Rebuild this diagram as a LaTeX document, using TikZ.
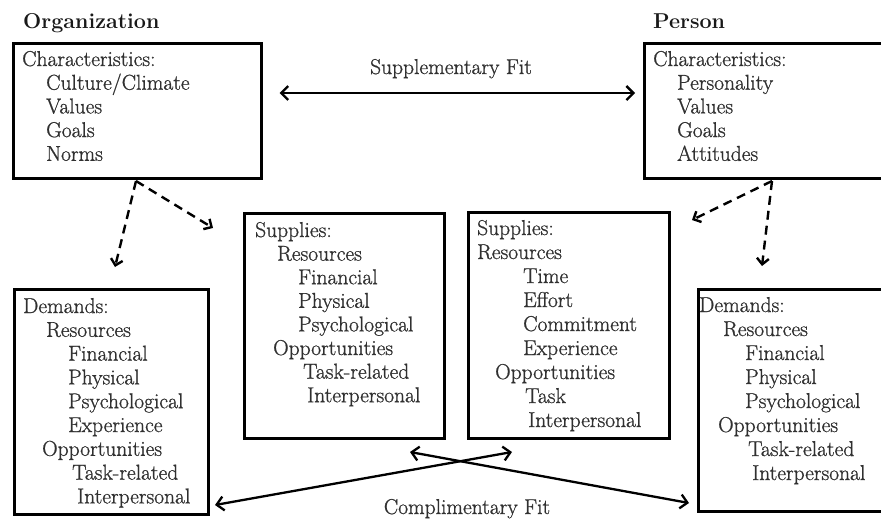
\documentclass[tikz,border=0pt]{standalone}
\usepackage{fontspec}
\newfontfamily\bodyfont{Latin Modern Roman}[FakeBold=0.9]
\usetikzlibrary{arrows.meta}
\definecolor{txtgray}{HTML}{303030}
\begin{document}
\begin{tikzpicture}[x=1pt,y=-1pt,
  box/.style={draw=black, line width=2.6pt, inner sep=0pt, anchor=north west},
  txt/.style={anchor=base west, inner sep=0pt, text=txtgray, font=\bodyfont\fontsize{21.5}{24}\selectfont},
  head/.style={anchor=base west, inner sep=0pt, text=black!90, font=\bfseries\fontsize{21.5}{24}\selectfont},
  fitarrow/.style={line width=2.3pt, {Straight Barb[length=7pt,width=14pt]}-{Straight Barb[length=7pt,width=14pt]}},
  dasharrow/.style={line width=2.4pt, dash pattern=on 9pt off 6pt, -{Straight Barb[length=6pt,width=12pt]}}
]
\clip (0,0) rectangle (881,523);
\fill[white] (0,0) rectangle (881,523);

% headings
\node[head] (orgH) at (23,28) {Organization};
\node[head] (perH) at (653,28) {Person};

% boxes
\node[box, minimum width=248pt, minimum height=135pt] (orgC) at (12,42) {};
\node[box, minimum width=260pt, minimum height=135pt] (perC) at (643,42) {};
\node[box, minimum width=200pt, minimum height=225pt] (supO) at (243,212) {};
\node[box, minimum width=201pt, minimum height=226pt] (supP) at (467,211) {};
\node[box, minimum width=194pt, minimum height=225pt] (demO) at (13,288) {};
\node[box, minimum width=200pt, minimum height=222pt] (demP) at (697,288) {};

% texts
\foreach \xx/\t [count=\i from 0] in {22/Characteristics:, 46/Culture\slash Climate, 46/Values, 46/Goals, 46/Norms}
  \node[txt] (oc\i) at (\xx,{66+23.7*\i}) {\t};
\foreach \xx/\t [count=\i from 0] in {653/Characteristics:, 677/Personality, 677/Values, 677/Goals, 677/Attitudes}
  \node[txt] (pc\i) at (\xx,{66+23.7*\i}) {\t};
\foreach \xx/\t [count=\i from 0] in {255/Supplies:, 277/Resources, 298/Financial, 298/Physical, 298/Psychological, 273/Opportunities, 303/Task-related, 307/Interpersonal}
  \node[txt] (so\i) at (\xx,{237+23.6*\i}) {\t};
\foreach \xx/\t [count=\i from 0] in {477/Supplies:, 477/Resources, 523/Time, 523/Effort, 523/Commitment, 523/Experience, 495/Opportunities, 525/Task, 528/Interpersonal}
  \node[txt] (sp\i) at (\xx,{235+24*\i}) {\t};
\foreach \xx/\t [count=\i from 0] in {23/Demands:, 46/Resources, 68/Financial, 68/Physical, 68/Psychological, 68/Experience, 42/Opportunities, 72/Task-related, 77/Interpersonal}
  \node[txt] (do\i) at (\xx,{313+23.8*\i}) {\t};
\foreach \xx/\t [count=\i from 0] in {699/Demands:, 723/Resources, 745/Financial, 745/Physical, 745/Psychological, 718/Opportunities, 748/Task-related, 752/Interpersonal}
  \node[txt] (dp\i) at (\xx,{312+24*\i}) {\t};

% fit labels
\node[txt, anchor=base] (supL) at (451,74) {Supplementary Fit};
\node[txt, anchor=base] (comL) at (467,514) {Complimentary Fit};

% supplementary fit arrow
\coordinate (s1) at ([xshift=17pt]orgC.east |- 0,93);
\coordinate (s2) at ([xshift=-8pt]perC.west |- 0,93);
\draw[fitarrow] (s1) -- (s2);

% complementary fit arrows
\coordinate (c1) at (215,505);
\coordinate (c2) at (512,452);
\coordinate (c3) at (410,452);
\coordinate (c4) at (689,503);
\draw[fitarrow] (c1) -- (c2);
\draw[fitarrow] (c3) -- (c4);

% dashed arrows
\coordinate (oa) at (136,181);
\coordinate (oa1) at (115,267);
\coordinate (oa2) at (213,228);
\coordinate (pa) at (772,181);
\coordinate (pa1) at (692,220);
\coordinate (pa2) at (762,266);
\draw[dasharrow] (oa) -- (oa1);
\draw[dasharrow] (oa) -- (oa2);
\draw[dasharrow] (pa) -- (pa1);
\draw[dasharrow] (pa) -- (pa2);
\end{tikzpicture}
\end{document}
